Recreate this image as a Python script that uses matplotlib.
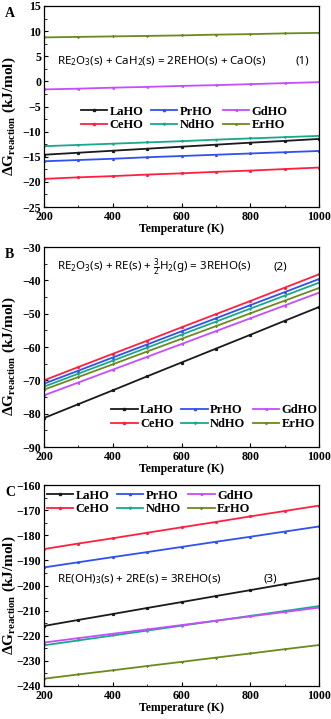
import numpy as np
import matplotlib
matplotlib.use('Agg')
import matplotlib.pyplot as plt
from matplotlib.ticker import MultipleLocator

plt.rcParams['font.family'] = 'Liberation Serif'
plt.rcParams['font.weight'] = 'bold'
plt.rcParams['mathtext.fontset'] = 'custom'
plt.rcParams['mathtext.rm'] = 'Liberation Serif:bold'
plt.rcParams['mathtext.sf'] = 'Noto Sans:bold'
plt.rcParams['mathtext.default'] = 'rm'

# temperature grid (K)
temps = [200, 300, 400, 500, 600, 700, 800, 900, 1000]
phases = ['LaHO', 'CeHO', 'PrHO', 'NdHO', 'GdHO', 'ErHO']

# panel A: RE2O3 + CaH2 = 2REHO + CaO
dg_a = {
    'LaHO': [-14.6, -14.2, -13.8, -13.4, -13.0, -12.6, -12.2, -11.85, -11.45],
    'CeHO': [-19.4, -19.1, -18.85, -18.55, -18.3, -18.0, -17.75, -17.45, -17.15],
    'PrHO': [-15.9, -15.65, -15.4, -15.1, -14.85, -14.6, -14.35, -14.1, -13.85],
    'NdHO': [-12.9, -12.65, -12.4, -12.15, -11.9, -11.6, -11.35, -11.1, -10.85],
    'GdHO': [-1.6, -1.45, -1.25, -1.1, -0.9, -0.75, -0.55, -0.35, -0.15],
    'ErHO': [8.75, 8.85, 8.95, 9.05, 9.15, 9.3, 9.4, 9.55, 9.65],
}
# panel B: RE2O3 + RE + 3/2 H2 = 3REHO
dg_b = {
    'LaHO': [-81.3, -77.15, -73.0, -68.8, -64.65, -60.5, -56.35, -52.15, -48.0],
    'CeHO': [-70.0, -66.0, -62.05, -58.1, -54.1, -50.15, -46.2, -42.2, -38.2],
    'PrHO': [-71.0, -67.1, -63.15, -59.25, -55.3, -51.4, -47.45, -43.55, -39.6],
    'NdHO': [-71.9, -68.0, -64.1, -60.2, -56.3, -52.4, -48.5, -44.6, -40.7],
    'GdHO': [-74.5, -70.65, -66.8, -62.95, -59.1, -55.25, -51.4, -47.55, -43.7],
    'ErHO': [-72.8, -69.0, -65.2, -61.35, -57.55, -53.75, -49.9, -46.1, -42.3],
}
# panel C: RE(OH)3 + 2RE = 3REHO
dg_c = {
    'LaHO': [-216.1, -213.7, -211.35, -208.95, -206.6, -204.2, -201.85, -199.45, -197.1],
    'CeHO': [-185.5, -183.3, -181.2, -179.0, -176.85, -174.7, -172.5, -170.35, -168.2],
    'PrHO': [-192.8, -190.75, -188.7, -186.7, -184.65, -182.6, -180.6, -178.55, -176.5],
    'NdHO': [-223.8, -221.85, -219.9, -217.95, -216.0, -214.05, -212.1, -210.15, -208.2],
    'GdHO': [-222.7, -220.95, -219.2, -217.5, -215.75, -214.0, -212.3, -210.55, -208.8],
    'ErHO': [-237.1, -235.4, -233.75, -232.05, -230.4, -228.7, -227.05, -225.35, -223.7],
}

colors = {'LaHO': '#1a1a1a', 'CeHO': '#ff2040', 'PrHO': '#3050f0',
          'NdHO': '#18a88a', 'GdHO': '#c64cff', 'ErHO': '#6b8a1e'}
markers = {'LaHO': 's', 'CeHO': 'o', 'PrHO': '^', 'NdHO': 'v', 'GdHO': '<', 'ErHO': '*'}

eq_a = r'RE$_\mathsf{2}$O$_\mathsf{3}$(s) + CaH$_\mathsf{2}$(s) = 2REHO(s) + CaO(s)'
eq_b = r'RE$_\mathsf{2}$O$_\mathsf{3}$(s) + RE(s) + $\mathsf{\frac{3}{2}}$H$_\mathsf{2}$(g) = 3REHO(s)'
eq_c = r'RE(OH)$_\mathsf{3}$(s) + 2RE(s) = 3REHO(s)'

panels = [
    # data, ylim, major, letter, eq, eq_xy, num, num_x, legend center
    (dg_a, (-25, 15), 5, 'A', eq_a, (0.047, 0.726), '(1)', 0.94, (0.51, 0.44)),
    (dg_b, (-90, -30), 10, 'B', eq_b, (0.047, 0.90), '(2)', 0.858, (0.62, 0.15)),
    (dg_c, (-240, -160), 10, 'C', eq_c, (0.047, 0.532), '(3)', 0.822, (0.385, 0.913)),
]

fig = plt.figure(figsize=(3.31, 7.19), dpi=100)
W, H = 331.0, 719.0
boxes = [(6, 207), (247, 447), (485, 686)]

for (data, ylim, major, letter, eq, eq_xy, num, num_x, leg_c), (top, bot) in zip(panels, boxes):
    ax = fig.add_axes([44 / W, 1 - bot / H, 275 / W, (bot - top) / H])
    for p in phases:
        ax.plot(temps, data[p], color=colors[p], lw=1.3, marker=markers[p],
                ms=1.3, label=p)
    ax.set_xlim(200, 1000)
    ax.set_ylim(*ylim)
    ax.xaxis.set_major_locator(MultipleLocator(200))
    ax.xaxis.set_minor_locator(MultipleLocator(100))
    ax.yaxis.set_major_locator(MultipleLocator(major))
    ax.yaxis.set_minor_locator(MultipleLocator(major / 2))
    ax.tick_params(which='both', direction='in', labelsize=8.6, top=False, right=False, pad=2)
    ax.tick_params(axis='x', pad=3)
    ax.tick_params(which='major', length=3, width=0.8)
    ax.tick_params(which='minor', length=1.8, width=0.6)
    for s in ax.spines.values():
        s.set_linewidth(0.9)
    ax.set_xlabel('Temperature (K)', fontsize=8.5, fontweight='bold', labelpad=0)
    ax.text(-0.127, 0.453, r'ΔG$_{\mathrm{reaction}}$ (kJ/mol)', transform=ax.transAxes,
            rotation=90, ha='center', va='center', fontsize=11, fontweight='bold')
    ax.text(eq_xy[0], eq_xy[1], eq, transform=ax.transAxes, family='Noto Sans',
            fontweight='bold', fontsize=8.3, va='center', ha='left')
    ax.text(num_x, eq_xy[1], num, transform=ax.transAxes, family='Noto Sans',
            fontweight='bold', fontsize=8.3, va='center', ha='center')
    ax.legend(loc='center', bbox_to_anchor=leg_c, ncol=3, frameon=False,
              fontsize=9, handlelength=2.1, handletextpad=0.2, columnspacing=0.6,
              labelspacing=0.15, borderpad=0.1, markerscale=1.2)
    fig.text(5 / W, 1 - (top + 1) / H, letter, fontsize=10, fontweight='bold',
             va='top', ha='left')

fig.savefig('out.png', dpi=100)
